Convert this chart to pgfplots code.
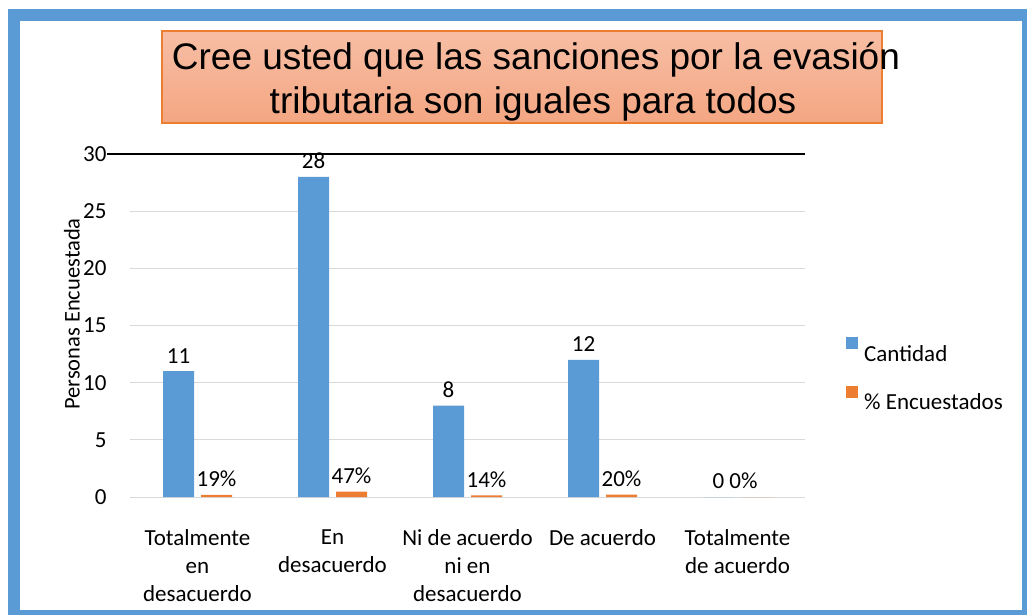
\documentclass[border=0pt]{standalone}
\usepackage{pgfplots}
\pgfplotsset{compat=1.18}
\usepackage{pgfplotstable}
\usepackage{fontspec}
\setmainfont{Carlito}
\newfontfamily\titlefont{Liberation Sans}
\definecolor{cblue}{RGB}{91,155,213}
\definecolor{corange}{RGB}{237,125,49}
\definecolor{gridgray}{RGB}{217,217,217}
\definecolor{boxtop}{RGB}{247,190,165}
\definecolor{boxbot}{RGB}{244,166,130}
\pgfplotstableread{
x cant pct
0 11 0.19
1 28 0.47
2 8 0.14
3 12 0.20
4 0 0
}\datatable
\begin{document}
\begin{tikzpicture}
\useasboundingbox (0,0) rectangle (1027pt,614pt);
% frame
\draw[line width=12pt, cblue] (14pt,599pt) rectangle (1028pt,-2pt);
% title box
\draw[draw=corange, line width=1.5pt, top color=boxtop, bottom color=boxbot] (162pt,583pt) rectangle (882pt,491pt);
\node[anchor=base, font=\titlefont\fontsize{37}{44}\selectfont, inner sep=0pt] at (536pt,544pt) {Cree usted que las sanciones por la evasión};
\node[anchor=base, font=\titlefont\fontsize{37}{44}\selectfont, inner sep=0pt] at (533pt,500pt) {tributaria son iguales para todos};
\begin{axis}[
  at={(130pt,117pt)}, anchor=south west,
  scale only axis, width=675pt, height=343pt,
  ybar=7pt, bar width=31pt,
  xmin=-0.5, xmax=4.5, ymin=0, ymax=30,
  xtick={0,1,2,3,4},
  xticklabels={{Totalmente\\en\\desacuerdo},{En\\desacuerdo},{Ni de acuerdo\\ni en\\desacuerdo},{De acuerdo},{Totalmente\\de acuerdo}},
  xticklabel style={align=center, font=\fontsize{23}{28}\selectfont, yshift=-29pt},
  ytick={0,5,...,30},
  yticklabel={\fontsize{23}{26}\selectfont\pgfmathprintnumber{\tick}},
  yticklabel style={xshift=-20pt},
  /pgf/number format/assume math mode=true,
  major tick length=0pt,
  axis line style={draw=none},
  ymajorgrids, grid style={gridgray, line width=1pt},
  ylabel={Personas Encuestada},
  every axis y label/.style={at={(axis description cs:0,0.5335)}, xshift=-58pt, rotate=90, anchor=center, font=\fontsize{22.5}{26}\selectfont},
  legend style={at={(rel axis cs:1,0.355)}, anchor=west, xshift=41pt, draw=none, fill=none, font=\fontsize{23}{28}\selectfont, row sep=21pt, inner sep=0pt, legend cell align=left,
    nodes={inner xsep=6pt}},
  legend image code/.code={\fill[#1] (0pt,5pt) rectangle (12pt,17pt);},
  nodes near coords style={anchor=south, inner sep=2pt, yshift=6pt, text=black},
  clip=false,
]
\addplot[fill=cblue, draw=none, nodes near coords={\fontsize{23}{26}\selectfont\pgfmathprintnumber{\pgfplotspointmeta}}] table[x=x, y=cant] {\datatable};
\addplot[fill=corange, draw=none, point meta={\thisrow{pct}*100},
  nodes near coords={\fontsize{23}{26}\selectfont\pgfmathprintnumber[fixed,precision=0]{\pgfplotspointmeta}\%},
  coordinate style/.condition={x==4}{xshift=-13pt}] table[x=x, y=pct] {\datatable};
\legend{Cantidad, \% Encuestados}
\draw[black, line width=2.3pt] (rel axis cs:0,1) ++(-23pt,0pt) -- (rel axis cs:1,1);
\end{axis}
\end{tikzpicture}
\end{document}
